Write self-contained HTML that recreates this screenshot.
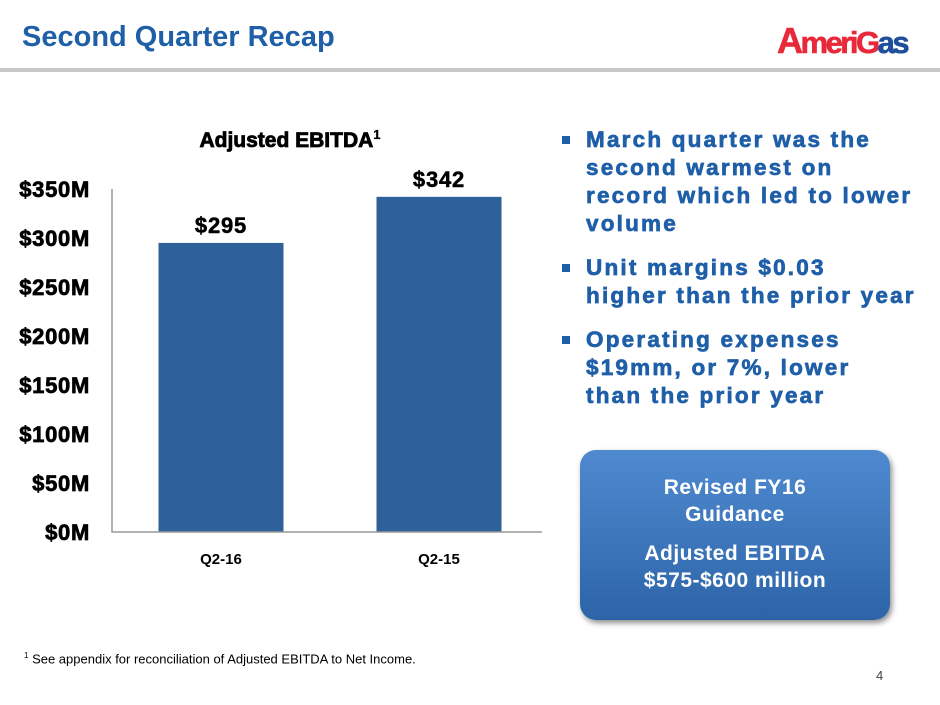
<!DOCTYPE html>
<html><head><meta charset="utf-8"><style>
body{margin:0;width:940px;height:705px;background:#fff;position:relative;overflow:hidden;font-family:"Liberation Sans",Arial,sans-serif}
.abs{position:absolute}
#title{left:22px;top:21px;font-size:29px;font-weight:bold;color:#1f5fa8}
#rule{left:0;top:68px;width:940px;height:4px;background:#c8c8c8}
#logo{left:777px;top:20px;font-size:31px;font-weight:bold;letter-spacing:-2.5px;-webkit-text-stroke:0.6px}
#bullets{left:560px;top:126px;width:375px;color:#1f5fa8;font-weight:bold;font-size:22.5px;line-height:28px;-webkit-text-stroke:0.7px;letter-spacing:2.2px;white-space:nowrap}
.b{position:relative;padding-left:26px;margin-bottom:16px}
.b:before{content:"";position:absolute;left:2px;top:10px;width:8px;height:8px;background:#1f5fa8}
#box{left:580px;top:450px;width:310px;height:170px;border-radius:16px;background:linear-gradient(#4f8ad0,#2d64a8);box-shadow:2px 3px 6px rgba(0,0,0,.45);color:#fff;font-weight:bold;font-size:21px;text-align:center;line-height:27px;letter-spacing:0.5px}
#foot{left:24px;top:651px;font-size:13px}
#pg{left:876px;top:668px;font-size:13px;color:#444}
</style></head><body>
<div id="title" class="abs">Second Quarter Recap</div>
<div id="rule" class="abs"></div>
<div id="logo" class="abs"><span style="color:#e8293a;font-size:36px">A</span><span style="color:#e8293a">meri</span><span style="color:#e8293a">G</span><span style="color:#1f4f9c">as</span></div>
<svg class="abs" style="left:0;top:0" width="560" height="600" id="chart"></svg>
<div id="bullets" class="abs">
<div class="b">March quarter was the<br>second warmest on<br>record which led to lower<br>volume</div>
<div class="b">Unit margins $0.03<br>higher than the prior year</div>
<div class="b">Operating expenses<br>$19mm, or 7%, lower<br>than the prior year</div>
</div>
<div id="box" class="abs">
<div style="margin-top:24px">Revised FY16<br>Guidance</div>
<div style="margin-top:12px">Adjusted EBITDA<br>$575-$600 million</div>
</div>
<div id="foot" class="abs"><sup style="font-size:8px">1</sup> See appendix for reconciliation of Adjusted EBITDA to Net Income.</div>
<div id="pg" class="abs">4</div>
<script>
const categories=["Q2-16","Q2-15"];
const values=[295,342];
const valueLabels=["$295","$342"];
const ticks=[0,50,100,150,200,250,300,350];
const NS="http://www.w3.org/2000/svg";
const svg=document.getElementById('chart');
const y0=532,ppu=343/350,xL=112,xR=548;
const y=v=>y0-v*ppu;
const band=(xR-xL)/categories.length;
const x=i=>xL+band*i+band/2;
function el(t,a){const e=document.createElementNS(NS,t);for(const k in a)e.setAttribute(k,a[k]);svg.appendChild(e);return e;}
let t=el('text',{x:290,y:147,'text-anchor':'middle','font-size':21,'font-weight':'bold','font-family':'Liberation Sans, sans-serif',stroke:'#000','stroke-width':0.8});


t.innerHTML='Adjusted EBITDA<tspan font-size="13" dy="-8" stroke-width="0.3">1</tspan>';
ticks.forEach(v=>{const e=el('text',{x:90,y:y(v)+8,'text-anchor':'end','font-size':22,'font-weight':'bold','font-family':'Liberation Sans, sans-serif',stroke:'#000','stroke-width':0.7,'letter-spacing':0.7});


e.textContent='$'+v+'M';});
values.forEach((v,i)=>{const w=125;
const r=el('rect',{x:x(i)-w/2,y:y(v),width:w,height:y0-y(v),fill:'#2e6199'});


const l=el('text',{x:x(i),y:y(v)-10,'text-anchor':'middle','font-size':22,'font-weight':'bold','font-family':'Liberation Sans, sans-serif',stroke:'#000','stroke-width':0.5,'letter-spacing':0.8});


l.textContent=valueLabels[i];
const c=el('text',{x:x(i),y:564,'text-anchor':'middle','font-size':15,'font-weight':'bold','font-family':'Liberation Sans, sans-serif'});


c.textContent=categories[i];});
const ax=el('path',{d:`M${xL} ${y(350)}V${y0}H542`,stroke:'#999',fill:'none','stroke-width':1.5});


</script>
</body></html>
